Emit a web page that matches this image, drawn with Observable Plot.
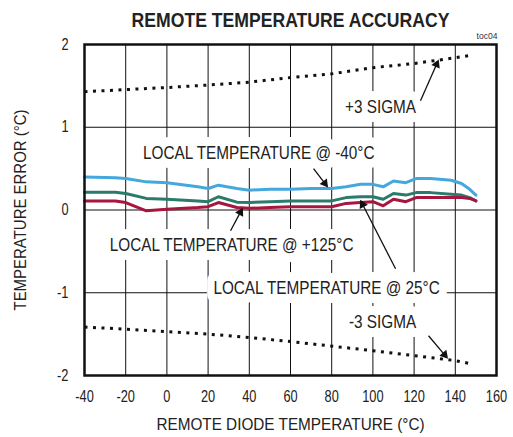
<!DOCTYPE html>
<html>
<head>
<meta charset="utf-8">
<script src="https://cdn.jsdelivr.net/npm/d3@7"></script>
<script src="https://cdn.jsdelivr.net/npm/@observablehq/plot@0.6"></script>
<style>
  body { margin: 0; background: #fff; }
  svg { display: block; }
</style>
</head>
<body>
<div id="chart"></div>
<script>
// ---- data ----
const temps = [-40, -25, -20, -10, 0, 15, 20, 25, 34, 40, 50, 60, 70, 80, 87, 94, 100, 105, 110, 116, 121, 128, 138, 143, 147, 150];
const local40 = [0.40, 0.39, 0.38, 0.34, 0.33, 0.28, 0.26, 0.30, 0.26, 0.24, 0.25, 0.25, 0.26, 0.26, 0.28, 0.31, 0.31, 0.28, 0.35, 0.33, 0.38, 0.38, 0.36, 0.32, 0.25, 0.18];
const local25 = [0.215, 0.215, 0.20, 0.14, 0.13, 0.11, 0.10, 0.16, 0.095, 0.09, 0.10, 0.11, 0.11, 0.11, 0.15, 0.16, 0.16, 0.13, 0.20, 0.18, 0.21, 0.21, 0.19, 0.18, 0.15, 0.11];
const local125 = [0.11, 0.11, 0.09, -0.01, 0.01, 0.03, 0.04, 0.09, 0.03, 0.02, 0.03, 0.04, 0.04, 0.04, 0.08, 0.09, 0.10, 0.05, 0.13, 0.10, 0.15, 0.15, 0.15, 0.15, 0.14, 0.11];

const sigmaX = [-40, 0, 20, 40, 60, 80, 100, 120, 140, 148];
const plus3 = [1.43, 1.48, 1.51, 1.545, 1.60, 1.645, 1.72, 1.77, 1.84, 1.87];
const sigmaXm = [-40, -20, 0, 20, 40, 60, 80, 100, 120, 140, 148];
const minus3 = [-1.415, -1.44, -1.47, -1.50, -1.54, -1.59, -1.645, -1.70, -1.76, -1.82, -1.86];

const xTicks = [-40, -20, 0, 20, 40, 60, 80, 100, 120, 140, 160];
const yTicks = [-2, -1, 0, 1, 2];
const xGrid = [-20, 0, 20, 40, 60, 80, 100, 120, 140];
const yGrid = [-1, 0, 1];

// annotation labels
const labelText = ["+3 SIGMA", "LOCAL TEMPERATURE @ -40°C", "LOCAL TEMPERATURE @ +125°C", "LOCAL TEMPERATURE @ 25°C", "-3 SIGMA"];
const labelX = [103.7, 44.6, 31.4, 77.5, 104.7];
const labelY = [1.24, 0.69, -0.43, -0.94, -1.36];

// annotation arrows (start -> tip)
const arrowX1 = [123.1, 71.2, 30.9, 111, 127];
const arrowY1 = [1.32, 0.50, -0.25, -0.71, -1.52];
const arrowX2 = [131.8, 78, 36.7, 94, 136.2];
const arrowY2 = [1.81, 0.28, 0.02, 0.115, -1.79];

const FONT = "'Liberation Sans', Arial, sans-serif";

const series = [
  {name: "-40", values: local40, color: "#44a8de"},
  {name: "25", values: local25, color: "#2a7b6b"},
  {name: "125", values: local125, color: "#a6173f"}
];
const lineData = series.flatMap(s => temps.map((t, i) => ({t, v: s.values[i], name: s.name})));
const plusData = sigmaX.map((x, i) => ({x, y: plus3[i]}));
const minusData = sigmaXm.map((x, i) => ({x, y: minus3[i]}));
const labels = labelText.map((text, i) => ({text, x: labelX[i], y: labelY[i]}));
const arrows = arrowX1.map((x1, i) => ({x1, y1: arrowY1[i], x2: arrowX2[i], y2: arrowY2[i]}));

const TITLE = "REMOTE TEMPERATURE ACCURACY";
const XLABEL = "REMOTE DIODE TEMPERATURE (°C)";
const YLABEL = "TEMPERATURE ERROR (°C)";

function options(extra) {
  return {
    width: 513,
    height: 437,
    marginLeft: 84,
    marginRight: 17,
    marginTop: 44,
    marginBottom: 62,
    style: {fontFamily: FONT, background: "#fff", color: "#222"},
    x: {domain: [-40, 160]},
    y: {domain: [-2, 2]},
    color: {domain: series.map(s => s.name), range: series.map(s => s.color)},
    marks: [
      Plot.ruleX(xGrid, {stroke: "#111", strokeWidth: 1}),
      Plot.ruleY(yGrid, {stroke: "#111", strokeWidth: 1}),
      Plot.line(lineData, {x: "t", y: "v", z: "name", stroke: "name", strokeWidth: 3}),
      Plot.line(plusData, {x: "x", y: "y", stroke: "#111", strokeWidth: 3, strokeDasharray: "3,5.5", strokeLinecap: "butt"}),
      Plot.line(minusData, {x: "x", y: "y", stroke: "#111", strokeWidth: 3, strokeDasharray: "3,5.5", strokeLinecap: "butt"}),
      Plot.text(labels, {x: "x", y: "y", text: "text", fontSize: 18, fill: "#222", stroke: "white", strokeWidth: 18, strokeLinejoin: "round", paintOrder: "stroke"}),
      ...extra,
      Plot.frame({stroke: "#111", strokeWidth: 2.5}),
      Plot.axisX(xTicks, {tickSize: 0, tickPadding: 15, fontSize: 16, tickFormat: d => String(d), label: null}),
      Plot.axisY(yTicks, {tickSize: 0, tickPadding: 16, fontSize: 16, tickFormat: d => String(d), label: null}),
      Plot.text([TITLE], {frameAnchor: "top", lineAnchor: "middle", dy: -24, fontSize: 20, fontWeight: "bold", fill: "#222"}),
      Plot.text(["toc04"], {frameAnchor: "top-right", lineAnchor: "middle", dy: -8, dx: 1, textAnchor: "end", fontSize: 9, fill: "#333"}),
      Plot.text([XLABEL], {frameAnchor: "bottom", lineAnchor: "middle", dy: 49, fontSize: 17, fill: "#222"}),
      Plot.text([YLABEL], {frameAnchor: "left", textAnchor: "middle", dx: -64, rotate: -90, fontSize: 17, fill: "#222"})
    ]
  };
}

// first pass to get scales for arrowhead orientation
const probe = Plot.plot(options([]));
const sx = probe.scale("x"), sy = probe.scale("y");
const heads = arrows.map(a => {
  const px1 = sx.apply(a.x1), py1 = sy.apply(a.y1);
  const px2 = sx.apply(a.x2), py2 = sy.apply(a.y2);
  const dx = px2 - px1, dy = py2 - py1;
  const len = Math.hypot(dx, dy);
  const ux = dx / len, uy = dy / len;
  const back = 4.5;
  return {
    x: sx.invert(px2 - ux * back),
    y: sy.invert(py2 - uy * back),
    sx: sx.invert(px2 - ux * 6),
    sy: sy.invert(py2 - uy * 6),
    angle: Math.atan2(dx, -dy) * 180 / Math.PI
  };
});
const shafts = arrows.map((a, i) => ({x1: a.x1, y1: a.y1, x2: heads[i].sx, y2: heads[i].sy}));

const extra = [
  Plot.link(shafts, {x1: "x1", y1: "y1", x2: "x2", y2: "y2", stroke: "#111", strokeWidth: 1.3}),
  Plot.dot(heads, {x: "x", y: "y", symbol: "triangle", r: 3.4, fill: "#111", stroke: "none", rotate: "angle"})
];

const svg = Plot.plot(options(extra));
document.getElementById("chart").append(svg);

// condense text horizontally (the original uses a narrow typeface)
function factorFor(t) {
  if (t === TITLE) return 0.88;
  if (t === XLABEL) return 0.9;
  if (t === YLABEL) return 0.88;
  if (t === "toc04") return 0.95;
  if (/^-?\d+$/.test(t)) return 0.8;
  return 0.85;
}
svg.querySelectorAll("text").forEach(el => {
  const t = el.textContent;
  const len = el.getComputedTextLength();
  if (len > 0) {
    el.setAttribute("textLength", (len * factorFor(t)).toFixed(1));
    el.setAttribute("lengthAdjust", "spacingAndGlyphs");
  }
});
</script>
</body>
</html>
